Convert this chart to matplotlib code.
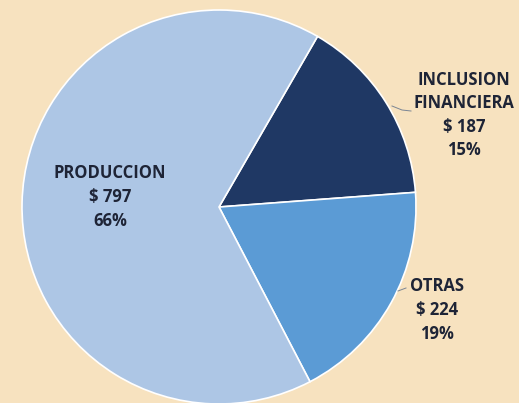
import matplotlib.pyplot as plt

# data
categories = ['INCLUSION\nFINANCIERA', 'OTRAS', 'PRODUCCION']
amounts = [187, 224, 797]
percent_labels = ['15%', '19%', '66%']
colors = ['#1f3864', '#5b9bd5', '#adc6e5']

bg = '#f7e2bf'
text_color = '#1e2436'

fig = plt.figure(figsize=(5.19, 4.03), dpi=100, facecolor=bg)
ax = fig.add_axes([0, 0, 1, 1])
ax.set_facecolor(bg)

# pie placed in pixel units (y up)
cx, cy, r = 219, 196, 197
wedges, _ = ax.pie(amounts, colors=colors, startangle=60, counterclock=False,
                   center=(cx, cy), radius=r, frame=True,
                   wedgeprops=dict(edgecolor='white', linewidth=1.2))
ax.set_xlim(0, 519)
ax.set_ylim(0, 403)
ax.set_aspect('equal')
ax.axis('off')

font = dict(family=['Open Sans', 'DejaVu Sans'], fontsize=12, fontweight='bold',
            color=text_color, ha='center', va='center', linespacing=1.4)

# label positions (pixel coords, y up)
label_pos = [(464, 288), (437, 93), (110, 206)]
for name, amt, pct, (x, y) in zip(categories, amounts, percent_labels, label_pos):
    ax.text(x, y, f'{name}\n$ {amt}\n{pct}', **font)

# small leader lines
ax.plot([392, 402, 411], [297, 293, 292], color='#7a8594', lw=0.7)
ax.plot([398, 406], [112, 115], color='#7a8594', lw=0.7)

fig.savefig('out.png', dpi=100, facecolor=bg)
